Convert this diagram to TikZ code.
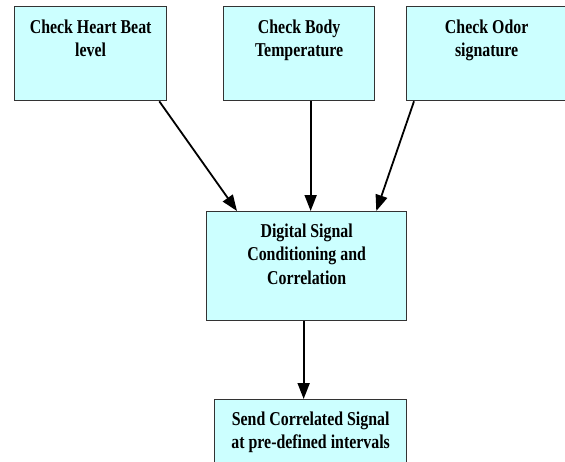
\documentclass[tikz,border=0pt]{standalone}
\usepackage{fontspec}
\setmainfont{Liberation Serif}[FakeStretch=0.81]
\usetikzlibrary{arrows.meta}
\definecolor{boxfill}{HTML}{CCFFFF}
\definecolor{boxline}{HTML}{333333}
\begin{document}
\begin{tikzpicture}[x=1pt,y=-1pt,
  box/.style={draw=boxline, line width=1.3pt, fill=boxfill, anchor=north west, inner sep=0pt},
  lbl/.style={anchor=north, align=center, inner sep=0pt, font=\bfseries\fontsize{19.6}{23.5}\selectfont},
  arr/.style={line width=1.8pt, -{Triangle[length=16pt,width=12pt]}}]
\useasboundingbox (0,0) rectangle (565,461);
\clip (0,0) rectangle (565,461);
\node[box, minimum width=152pt, minimum height=94pt] (b1) at (14,6) {};
\node[box, minimum width=151pt, minimum height=94pt] (b2) at (223,6) {};
\node[box, minimum width=160pt, minimum height=94pt] (b3) at (406,6) {};
\node[box, minimum width=200pt, minimum height=109pt] (mid) at (206,211) {};
\node[box, minimum width=192pt, minimum height=80pt] (b5) at (214,399) {};
\node[lbl] (t1) at ([yshift=-13.5pt]b1.north) {Check Heart Beat\\level};
\node[lbl] (t2) at ([yshift=-13.5pt]b2.north) {Check Body\\Temperature};
\node[lbl] (t3) at ([yshift=-13.5pt]b3.north) {Check Odor\\signature};
\node[lbl] (tm) at ([yshift=-12.5pt]mid.north) {Digital Signal\\Conditioning and\\Correlation};
\node[lbl] (t5) at ([yshift=-12.5pt]b5.north) {Send Correlated Signal\\at pre-defined intervals};
\coordinate (a1s) at ([xshift=-8pt]b1.south east);
\coordinate (a1e) at ([xshift=31pt]mid.north west);
\coordinate (a2s) at ([xshift=11.5pt]b2.south);
\coordinate (a2e) at ([xshift=4pt]mid.north);
\coordinate (a3s) at ([xshift=8pt]b3.south west);
\coordinate (a3e) at ([xshift=-31pt]mid.north east);
\coordinate (a4s) at ([xshift=-3pt]mid.south);
\coordinate (a4e) at ([xshift=-7pt]b5.north);
\draw[arr] (a1s) -- (a1e);
\draw[arr] (a2s) -- (a2e);
\draw[arr] (a3s) -- (a3e);
\draw[arr] (a4s) -- (a4e);
\end{tikzpicture}
\end{document}
